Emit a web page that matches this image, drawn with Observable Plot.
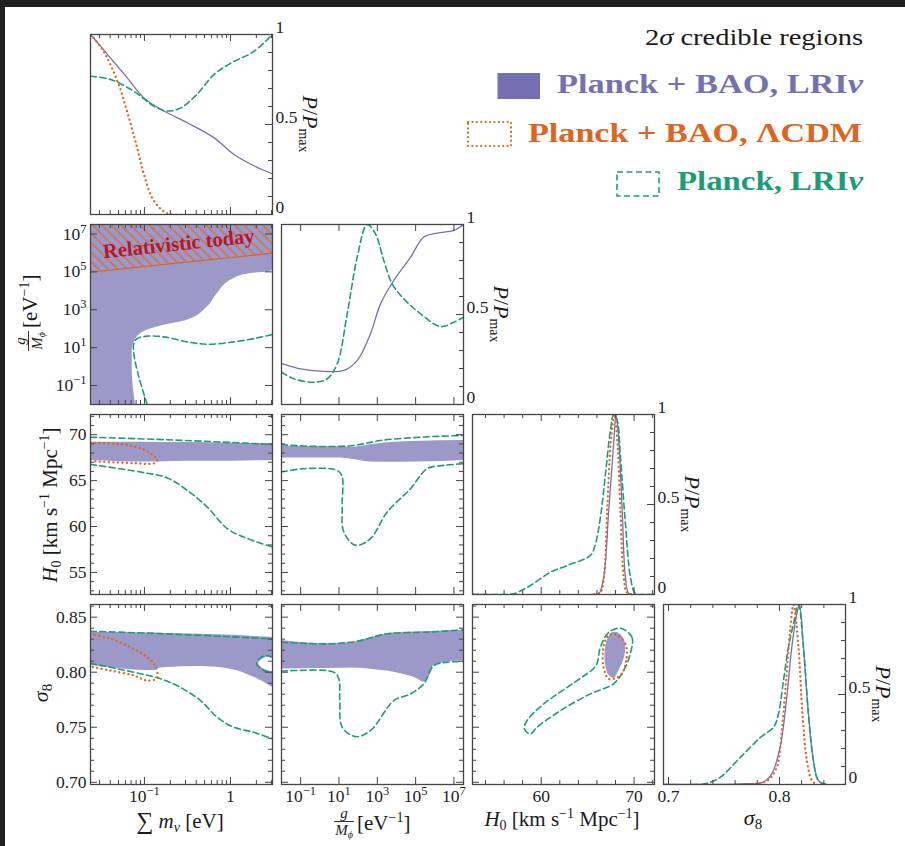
<!DOCTYPE html>
<html><head><meta charset="utf-8">
<script src="https://cdn.jsdelivr.net/npm/d3@7"></script>
<script src="https://cdn.jsdelivr.net/npm/@observablehq/plot@0.6"></script>
<style>
html,body{margin:0;padding:0;background:#fff;}
#wrap{position:relative;width:905px;height:846px;overflow:hidden;background:#fff;}
#topbar{position:absolute;left:0;top:0;width:905px;height:7px;background:#1f1f1f;}
#leftbar{position:absolute;left:0;top:0;width:5px;height:846px;background:#1f1f1f;}
</style></head>
<body><div id="wrap"><div id="topbar"></div><div id="leftbar"></div></div>
<script>
// ---------------- axis ranges and ticks ----------------
const mnuDomain = [0.0236, 3.08];
const gDomain = [0.01, 3.16e7];
const H0Domain = [52.6, 72.2];
const s8RowDomain = [0.698, 0.8615];
const s8ColDomain = [0.6955, 0.8595];
const PDomain = [0, 1];

const mnuMajor = [0.1, 1];
const mnuMinor = [0.03,0.04,0.05,0.06,0.07,0.08,0.09,0.2,0.3,0.4,0.5,0.6,0.7,0.8,0.9,2,3];
const mnuLabels = ["10^\u22121", "1"];
const gMajor = [0.1, 10, 1e3, 1e5, 1e7];
const gMinor = [];
const gLabels = ["10^\u22121", "10^1", "10^3", "10^5", "10^7"];
const H0xMajor = [60, 70];
const H0xMinor = [54,56,58,62,64,66,68,72];
const H0xLabels = ["60", "70"];
const H0yMajor = [55, 60, 65, 70];
const H0yMinor = [53,54,56,57,58,59,61,62,63,64,66,67,68,69,71,72];
const H0yLabels = ["55", "60", "65", "70"];
const s8yMajor = [0.70, 0.75, 0.80, 0.85];
const s8yMinor = [0.71,0.72,0.73,0.74,0.76,0.77,0.78,0.79,0.81,0.82,0.83,0.84,0.86];
const s8yLabels = ["0.70", "0.75", "0.80", "0.85"];
const s8xMajor = [0.7, 0.8];
const s8xMinor = [0.72,0.74,0.76,0.78,0.82,0.84];
const s8xLabels = ["0.7", "0.8"];
const PMajor = [0, 0.5, 1];
const PMinor = [0.1,0.2,0.3,0.4,0.6,0.7,0.8,0.9];
const PLabels = ["0", "0.5", "1"];

// ---------------- 1D posteriors [x, P/Pmax] ----------------
const mnu_LRInuBAO = [[0.0236,1.0],[0.0404,0.869],[0.0631,0.759],[0.0984,0.648],[0.168,0.575],[0.314,0.51],[0.641,0.427],[1.09,0.335],[1.87,0.271],[3.08,0.226]];
const mnu_LCDM = [[0.0236,1.0],[0.0308,0.934],[0.0369,0.87],[0.0504,0.72],[0.0658,0.54],[0.0824,0.37],[0.0984,0.225],[0.1285,0.077],[0.184,0.007],[0.317,0.0]];
const mnu_Planck = [[0.0236,0.768],[0.0404,0.75],[0.075,0.685],[0.1284,0.602],[0.182,0.575],[0.26,0.59],[0.406,0.667],[0.641,0.777],[1.0,0.84],[1.87,0.906],[3.08,1.0]];

const g_LRInuBAO = [[0.01,0.229],[0.0982,0.198],[1.08,0.185],[17.8,0.189],[89,0.244],[442,0.393],[1470,0.559],[7260,0.689],[54100,0.818],[2.67e5,0.93],[1.34e6,0.952],[9.84e6,0.967],[3.16e7,1.0]];
const g_Planck = [[0.01,0.18],[0.0439,0.143],[0.485,0.124],[2.43,0.143],[8.07,0.226],[26.9,0.504],[89.3,0.818],[297,1.0],[805,0.948],[2180,0.8],[6000,0.67],[24200,0.587],[1.8e5,0.504],[1.99e6,0.433],[9.84e6,0.457],[3.16e7,0.485]];

const H0_Planck = [[52.6,0],[56.0,0],[57.05,0.004],[58.84,0.05],[60.99,0.124],[62.79,0.161],[65.3,0.217],[65.84,0.281],[66.38,0.43],[66.92,0.67],[67.45,0.911],[67.81,1.0],[68.18,0.967],[68.53,0.763],[69.07,0.393],[69.61,0.096],[70.15,0.004],[71.0,0],[72.2,0]];
const H0_LRInuBAO = [[52.6,0],[65.5,0],[66.2,0.005],[66.73,0.096],[67.27,0.467],[67.75,0.8],[68.07,1.0],[68.35,0.856],[68.71,0.485],[69.07,0.094],[69.43,0.005],[70.2,0],[72.2,0]];
const H0_LCDM = [[65.7,0],[66.35,0.01],[66.72,0.08],[67.1,0.467],[67.5,0.85],[67.89,1.0],[68.2,0.85],[68.53,0.467],[68.9,0.09],[69.25,0.01],[70.0,0]];

const s8_Planck = [[0.6955,0],[0.725,0],[0.7346,0.007],[0.7466,0.04],[0.7646,0.15],[0.7826,0.26],[0.7946,0.318],[0.7991,0.393],[0.8036,0.578],[0.8081,0.763],[0.8126,0.893],[0.8171,1.0],[0.8216,0.763],[0.8261,0.393],[0.8306,0.133],[0.8351,0.022],[0.8425,0],[0.8595,0]];
const s8_LRInuBAO = [[0.6955,0],[0.7646,0.004],[0.7856,0.013],[0.7931,0.06],[0.8006,0.207],[0.8066,0.485],[0.8111,0.763],[0.8156,0.948],[0.818,1.0],[0.8216,0.763],[0.8261,0.393],[0.8306,0.133],[0.8351,0.022],[0.8425,0],[0.8595,0]];
const s8_LCDM = [[0.77,0],[0.7886,0.02],[0.7976,0.096],[0.8021,0.3],[0.806,0.578],[0.8096,0.856],[0.8126,1.0],[0.8171,0.763],[0.8207,0.393],[0.8247,0.133],[0.8292,0.022],[0.8337,0]];

// ---------------- 2D credible regions ----------------
const mg_LRInuBAO_edge = [[0.0787,0.01],[0.0721,0.66],[0.0721,7.4],[0.0824,37],[0.1076,83],[0.168,151],[0.314,282],[0.537,1410],[0.702,7080],[1.094,43700],[1.71,81300],[2.68,97700],[3.08,120000],[3.08,3.16e7]];
const mg_Planck = [[0.1076,0.01],[0.0861,0.288],[0.0752,4.95],[0.0752,16.6],[0.0824,30.2],[0.1076,40.7],[0.168,37.2],[0.314,20.2],[0.537,15.1],[1.094,20.2],[2.05,32.8],[3.08,49.5]];
const relBoundary = [[0.0236,9.8e4],[3.08,9.8e5]];
const relText = ["Relativistic today"];

const mH0_LRInuBAO = [[0.0236,67.2,69.19],[0.1,67.02,69.19],[0.3,67.1,69.15],[1.0,67.12,69.08],[3.08,67.2,69.0]];
const mH0_LCDM = [[0.0236,69.12],[0.0482,69.0],[0.0824,68.64],[0.112,68.1],[0.141,67.27],[0.131,66.9],[0.0752,66.9],[0.0236,67.12]];
const mH0_Planck_upper = [[0.0236,69.73],[0.182,69.45],[0.8,69.2],[3.08,68.94]];
const mH0_Planck_lower = [[0.0236,66.77],[0.09,65.93],[0.182,65.32],[0.314,63.94],[0.537,62.12],[0.916,59.78],[1.57,58.69],[3.08,57.78]];

const gH0_LRInuBAO = [[0.01,67.45,68.75],[8.07,67.45,68.7],[59,67.3,68.64],[442,67.02,68.9],[3290,67.0,69.12],[1.8e5,67.02,69.3],[3.16e7,67.2,69.37]];
const gH0_Planck_upper = [[0.01,68.9],[1.08,68.72],[59,68.83],[1470,69.37],[1.8e5,69.73],[3.16e7,69.92]];
const gH0_Planck_lower = [[0.01,65.93],[0.146,66.3],[8.07,66.11],[14.7,65.4],[14.7,62.3],[17.9,59.4],[72.8,57.96],[442,58.69],[3290,61.58],[54100,64.12],[4.02e5,66.3],[2.95e6,66.66],[3.16e7,66.84]];

const mS8_LRInuBAO = [[0.0236,0.806,0.8363],[0.0752,0.8021,0.8358],[0.128,0.8015,0.8355],[0.154,0.8039,0.8354],[0.449,0.8051,0.8345],[1.094,0.8021,0.8335],[1.87,0.7954,0.8325],[3.08,0.7863,0.8318]];
const mS8_hole = [[3.08,0.8128],[2.6,0.8138],[2.2,0.8108],[2.1,0.8079],[2.3,0.8042],[2.7,0.8018],[3.08,0.801]];
const mS8_Planck_loop = [[3.08,0.8136],[2.56,0.8151],[2.12,0.8115],[2.01,0.8079],[2.24,0.8033],[2.63,0.8006],[3.08,0.7997]];
const mS8_Planck_upper = [[0.0236,0.8372],[0.182,0.8348],[3.08,0.8303]];
const mS8_Planck_lower = [[0.0236,0.8081],[0.0752,0.8],[0.154,0.794],[0.26,0.7863],[0.449,0.7742],[0.702,0.759],[1.094,0.75],[1.87,0.7454],[3.08,0.7394]];
const mS8_LCDM = [[0.0236,0.8348],[0.0404,0.8303],[0.0752,0.8212],[0.1076,0.8136],[0.133,0.806],[0.141,0.7949],[0.1076,0.7924],[0.0752,0.797],[0.0404,0.8015],[0.0236,0.8051]];

const gS8_LRInuBAO = [[0.01,0.803,0.8288],[2.43,0.8033,0.8258],[58.9,0.8039,0.827],[133,0.8035,0.8288],[989,0.8021,0.833],[3290,0.801,0.8349],[16300,0.7985,0.8358],[1.21e5,0.794,0.8365],[2.67e5,0.791,0.8367],[4.88e5,0.7949,0.8368],[8.9e5,0.806,0.837],[4.45e6,0.8091,0.8375],[3.16e7,0.8106,0.8379]];
const gS8_Planck_upper = [[0.01,0.8272],[2.43,0.8258],[89.3,0.8282],[3290,0.8349],[4.02e5,0.8364],[3.16e7,0.8385]];
const gS8_Planck_lower = [[0.01,0.8009],[0.0439,0.8015],[5.37,0.8],[9.8,0.794],[11.0,0.7742],[14.7,0.75],[72.8,0.7415],[442,0.747],[7260,0.7742],[54100,0.7803],[2.67e5,0.7894],[8.9e5,0.806],[4.45e6,0.8091],[3.16e7,0.81]];

const HS8_Planck = [[68.51,0.84],[69.77,0.8318],[69.59,0.8167],[68.87,0.8015],[67.79,0.7894],[65.29,0.7803],[62.06,0.7651],[59.56,0.75],[58.84,0.744],[58.19,0.7485],[58.48,0.7561],[60.27,0.7712],[63.86,0.7924],[65.9,0.806],[66.35,0.822],[67.2,0.8355]];
const HS8_LRInuBAO = [[68.16,0.8363],[68.8,0.8315],[69.05,0.8227],[68.87,0.8124],[68.3,0.8015],[67.79,0.7949],[67.22,0.7979],[66.9,0.806],[66.83,0.8197],[67.12,0.8306],[67.55,0.836]];
const HS8_LCDM = [[67.79,0.8349],[69.05,0.8258],[69.16,0.8106],[68.51,0.797],[67.26,0.794],[66.72,0.8045],[66.65,0.8197],[67.08,0.8318]];

// ---------------- styling ----------------
const PURPLE = "#7570b3", ORANGE = "#df6420", TEAL = "#1b9e77", FILL = "#9c99c9", AX = "#454545", TXT = "#222";
const SERIF = '"Liberation Serif", "DejaVu Serif", serif';
const PW = 182, PH = 180;
const colLeft = [90, 281, 472, 663];
const rowTop = [34, 224, 414, 604];
const SOLID = {stroke: PURPLE, strokeWidth: 1.3, curve: "catmull-rom", clip: true};
const DOTTED = {stroke: ORANGE, strokeWidth: 2.3, strokeDasharray: "0.1,4.4", strokeLinecap: "round", curve: "catmull-rom", clip: true};
const DASHED = {stroke: TEAL, strokeWidth: 1.6, strokeDasharray: "6,3.5", curve: "catmull-rom", clip: true};
const XY = {x: d => d[0], y: d => d[1]};
const TXTSTYLE = {fontSize: 17.5, fill: TXT, fontFamily: SERIF};

const wrap = document.getElementById("wrap");

function tickRules(axis, major, minor, sides) {
  const out = [];
  for (const [vals, len] of [[major, 7], [minor, 4]]) {
    if (!vals.length) continue;
    const c = {stroke: AX, strokeWidth: 1};
    if (axis === "x") {
      if (sides.includes("bottom")) out.push(Plot.ruleX(vals, {x: d => d, insetTop: PH - len, ...c}));
      if (sides.includes("top")) out.push(Plot.ruleX(vals, {x: d => d, insetBottom: PH - len, ...c}));
    } else {
      if (sides.includes("left")) out.push(Plot.ruleY(vals, {y: d => d, insetRight: PW - len, ...c}));
      if (sides.includes("right")) out.push(Plot.ruleY(vals, {y: d => d, insetLeft: PW - len, ...c}));
    }
  }
  return out;
}

function supify(svg) {
  const ns = "http://www.w3.org/2000/svg";
  svg.querySelectorAll("text").forEach(t => {
    const s = t.textContent;
    if (!s.includes("^")) return;
    const [b, e] = s.split("^");
    t.textContent = "";
    const t1 = document.createElementNS(ns, "tspan"); t1.textContent = b;
    const t2 = document.createElementNS(ns, "tspan"); t2.textContent = e;
    t2.setAttribute("dy", "-7"); t2.setAttribute("font-size", "12.5");
    t.append(t1, t2);
  });
}

function panel(col, row, {x, y, marks, xt, yt, twoD, bottom, left, right, after}) {
  const all = [...marks];
  all.push(...tickRules("x", xt.major, xt.minor, ["top", "bottom"]));
  all.push(...tickRules("y", yt.major, yt.minor, twoD ? ["left", "right"] : ["right"]));
  if (bottom) all.push(Plot.text(xt.major, {x: d => d, text: (d, i) => xt.labels[i], frameAnchor: "bottom", lineAnchor: "top", dy: 5, ...TXTSTYLE}));
  if (left) all.push(Plot.text(yt.major, {y: d => d, text: (d, i) => yt.labels[i], frameAnchor: "left", textAnchor: "end", dx: -4, ...TXTSTYLE}));
  if (right) all.push(Plot.text(yt.major, {y: d => d, text: (d, i) => yt.labels[i], frameAnchor: "right", textAnchor: "start", lineAnchor: "bottom", dx: 3, dy: -1.5, ...TXTSTYLE}));
  all.push(Plot.frame({stroke: AX, strokeWidth: 1.3}));
  const svg = Plot.plot({width: PW, height: PH, margin: 0, x: {...x, axis: null}, y: {...y, axis: null}, marks: all});
  svg.style.position = "absolute";
  svg.style.left = colLeft[col] + "px";
  svg.style.top = rowTop[row] + "px";
  svg.style.overflow = "visible";
  svg.style.background = "transparent";
  svg.style.fontFamily = SERIF;
  svg.style.maxWidth = "none";
  supify(svg);
  if (after) after(svg);
  wrap.appendChild(svg);
}

const sM = {type: "log", domain: mnuDomain};
const sG = {type: "log", domain: gDomain};
const sH = {domain: H0Domain};
const sSr = {domain: s8RowDomain};
const sSc = {domain: s8ColDomain};
const sP = {domain: PDomain};
const tM = {major: mnuMajor, minor: mnuMinor, labels: mnuLabels};
const tG = {major: gMajor, minor: gMinor, labels: gLabels};
const tHx = {major: H0xMajor, minor: H0xMinor, labels: H0xLabels};
const tHy = {major: H0yMajor, minor: H0yMinor, labels: H0yLabels};
const tSy = {major: s8yMajor, minor: s8yMinor, labels: s8yLabels};
const tSx = {major: s8xMajor, minor: s8xMinor, labels: s8xLabels};
const tP = {major: PMajor, minor: PMinor, labels: PLabels};

// Row 1
panel(0, 0, {x: sM, y: sP, xt: tM, yt: tP, right: true, marks: [
  Plot.line(mnu_LRInuBAO, {...XY, ...SOLID}),
  Plot.line(mnu_Planck, {...XY, ...DASHED}),
  Plot.line(mnu_LCDM, {...XY, ...DOTTED})
]});

// Row 2
panel(0, 1, {x: sM, y: sG, xt: tM, yt: tG, twoD: true, left: true, marks: [
  Plot.areaX(mg_LRInuBAO_edge, {y: d => d[1], x1: () => mnuDomain[0], x2: d => d[0], fill: FILL, curve: "monotone-y", clip: true}),
  Plot.areaY(relBoundary, {x: d => d[0], y1: d => d[1], y2: () => gDomain[1], fill: "url(#hatchRel)", clip: true}),
  Plot.line(relBoundary, {...XY, stroke: ORANGE, strokeWidth: 1.3, clip: true}),
  Plot.line(mg_Planck, {...XY, ...DASHED}),
  Plot.text(relText, {x: () => 0.25, y: () => 3.0e6, text: d => d, rotate: -6, fill: "#b5172b", fontWeight: "bold", fontSize: 20.5, fontFamily: SERIF})
], after: svg => {
  const ns = "http://www.w3.org/2000/svg";
  const defs = document.createElementNS(ns, "defs");
  defs.innerHTML = `<pattern id="hatchRel" patternUnits="userSpaceOnUse" width="6.7" height="6.7" patternTransform="rotate(-45)"><rect width="6.7" height="6.7" fill="${FILL}"/><line x1="1" y1="0" x2="1" y2="6.7" stroke="${ORANGE}" stroke-width="1.1"/></pattern>`;
  svg.insertBefore(defs, svg.firstChild);
}});
panel(1, 1, {x: sG, y: sP, xt: tG, yt: tP, right: true, marks: [
  Plot.line(g_LRInuBAO, {...XY, ...SOLID}),
  Plot.line(g_Planck, {...XY, ...DASHED})
]});

// Row 3
panel(0, 2, {x: sM, y: sH, xt: tM, yt: tHy, twoD: true, left: true, marks: [
  Plot.areaY(mH0_LRInuBAO, {x: d => d[0], y1: d => d[1], y2: d => d[2], fill: FILL, curve: "monotone-x", clip: true}),
  Plot.line(mH0_Planck_upper, {...XY, ...DASHED}),
  Plot.line(mH0_Planck_lower, {...XY, ...DASHED}),
  Plot.line(mH0_LCDM, {...XY, ...DOTTED})
]});
panel(1, 2, {x: sG, y: sH, xt: tG, yt: tHy, twoD: true, marks: [
  Plot.areaY(gH0_LRInuBAO, {x: d => d[0], y1: d => d[1], y2: d => d[2], fill: FILL, curve: "monotone-x", clip: true}),
  Plot.line(gH0_Planck_upper, {...XY, ...DASHED}),
  Plot.line(gH0_Planck_lower, {...XY, ...DASHED})
]});
panel(2, 2, {x: sH, y: sP, xt: tHx, yt: tP, right: true, marks: [
  Plot.line(H0_LRInuBAO, {...XY, ...SOLID}),
  Plot.line(H0_Planck, {...XY, ...DASHED}),
  Plot.line(H0_LCDM, {...XY, ...DOTTED})
]});

// Row 4
panel(0, 3, {x: sM, y: sSr, xt: tM, yt: tSy, twoD: true, left: true, bottom: true, marks: [
  Plot.areaY(mS8_LRInuBAO, {x: d => d[0], y1: d => d[1], y2: d => d[2], fill: FILL, curve: "monotone-x", clip: true}),
  Plot.line(mS8_hole, {...XY, fill: "white", stroke: "none", curve: "catmull-rom", clip: true}),
  Plot.line(mS8_Planck_upper, {...XY, ...DASHED}),
  Plot.line(mS8_Planck_lower, {...XY, ...DASHED}),
  Plot.line(mS8_Planck_loop, {...XY, ...DASHED}),
  Plot.line(mS8_LCDM, {...XY, ...DOTTED})
]});
panel(1, 3, {x: sG, y: sSr, xt: tG, yt: tSy, twoD: true, bottom: true, marks: [
  Plot.areaY(gS8_LRInuBAO, {x: d => d[0], y1: d => d[1], y2: d => d[2], fill: FILL, curve: "monotone-x", clip: true}),
  Plot.line(gS8_Planck_upper, {...XY, ...DASHED}),
  Plot.line(gS8_Planck_lower, {...XY, ...DASHED})
]});
panel(2, 3, {x: sH, y: sSr, xt: tHx, yt: tSy, twoD: true, bottom: true, marks: [
  Plot.line(HS8_LRInuBAO, {...XY, fill: FILL, stroke: "none", curve: "catmull-rom-closed", clip: true}),
  Plot.line(HS8_Planck, {...XY, ...DASHED, curve: "catmull-rom-closed"}),
  Plot.line(HS8_LCDM, {...XY, ...DOTTED, curve: "catmull-rom-closed"})
]});
panel(3, 3, {x: sSc, y: sP, xt: tSx, yt: tP, right: true, bottom: true, marks: [
  Plot.line(s8_LRInuBAO, {...XY, ...SOLID}),
  Plot.line(s8_Planck, {...XY, ...DASHED}),
  Plot.line(s8_LCDM, {...XY, ...DOTTED})
]});

// ---------------- titles, axis labels, legend ----------------
function h0Label(cx, cy, rot) {
  return `<g transform="translate(${cx},${cy}) rotate(${rot})"><text x="0" y="7" text-anchor="middle" font-size="21"><tspan font-style="italic">H</tspan><tspan font-size="14" dy="4">0</tspan><tspan dy="-4"> [km s</tspan><tspan font-size="14" dy="-8">\u22121</tspan><tspan dy="8"> Mpc</tspan><tspan font-size="14" dy="-8">\u22121</tspan><tspan dy="8">]</tspan></text></g>`;
}
function gLabel(cx, cy, rot) {
  return `<g transform="translate(${cx},${cy}) rotate(${rot})">
    <text x="-27" y="-5" text-anchor="middle" font-size="15" font-style="italic">g</text>
    <line x1="-37" x2="-17" y1="-1.5" y2="-1.5" stroke="#1a1a1a" stroke-width="0.9"/>
    <text x="-27" y="12" text-anchor="middle" font-size="15"><tspan font-style="italic">M</tspan><tspan font-style="italic" font-size="10" dy="3">\u03D5</tspan></text>
    <text x="-14" y="7" font-size="21">[eV<tspan font-size="14" dy="-8">\u22121</tspan><tspan dy="8">]</tspan></text></g>`;
}
function s8Label(cx, cy, rot) {
  return `<g transform="translate(${cx},${cy}) rotate(${rot})"><text x="0" y="5" text-anchor="middle" font-size="22"><tspan font-style="italic">\u03C3</tspan><tspan font-size="15" dy="4">8</tspan></text></g>`;
}
function pLabel(cx, cy) {
  return `<g transform="translate(${cx},${cy}) rotate(90)"><text x="0" y="6" text-anchor="middle" font-size="22"><tspan font-style="italic">P</tspan>/<tspan font-style="italic">P</tspan><tspan font-size="14" dy="4">max</tspan></text></g>`;
}
const overlay = `<svg xmlns="http://www.w3.org/2000/svg" width="905" height="846" style="position:absolute;left:0;top:0;overflow:visible;font-family:${SERIF.replace(/"/g, "'")}" fill="#1a1a1a">
  <text x="863" y="45" text-anchor="end" font-size="24" textLength="218" lengthAdjust="spacingAndGlyphs">2<tspan font-style="italic">\u03C3</tspan> credible regions</text>
  <rect x="497.5" y="73" width="42.5" height="26" fill="${PURPLE}"/>
  <text x="863" y="93.3" text-anchor="end" font-size="27" font-weight="bold" fill="${PURPLE}" textLength="306" lengthAdjust="spacingAndGlyphs">Planck + BAO, LRI<tspan font-style="italic">\u03BD</tspan></text>
  <rect x="468" y="122" width="43" height="24" fill="none" stroke="${ORANGE}" stroke-width="2.2" stroke-dasharray="0.1,4.3" stroke-linecap="round"/>
  <text x="862" y="141.7" text-anchor="end" font-size="27" font-weight="bold" fill="${ORANGE}" textLength="334" lengthAdjust="spacingAndGlyphs">Planck + BAO, \u039BCDM</text>
  <rect x="617" y="172" width="42" height="24" fill="none" stroke="${TEAL}" stroke-width="1.6" stroke-dasharray="6,3.5"/>
  <text x="863" y="190" text-anchor="end" font-size="27" font-weight="bold" fill="${TEAL}" textLength="186" lengthAdjust="spacingAndGlyphs">Planck, LRI<tspan font-style="italic">\u03BD</tspan></text>
  <text x="180" y="828" text-anchor="middle" font-size="21"><tspan font-size="24" dy="1">\u2211</tspan><tspan dy="-1" font-style="italic"> m</tspan><tspan font-style="italic" font-size="14" dy="4">\u03BD</tspan><tspan dy="-4"> [eV]</tspan></text>
  ${gLabel(371, 823, 0)}
  ${h0Label(562, 819, 0)}
  ${s8Label(753, 820, 0)}
  ${gLabel(30, 314, -90)}
  ${h0Label(50, 505, -90)}
  ${s8Label(43, 693, -90)}
  ${pLabel(309, 124)}
  ${pLabel(500, 314)}
  ${pLabel(691, 504)}
  ${pLabel(882, 694)}
</svg>`;
wrap.insertAdjacentHTML("beforeend", overlay);
</script>
</body></html>
